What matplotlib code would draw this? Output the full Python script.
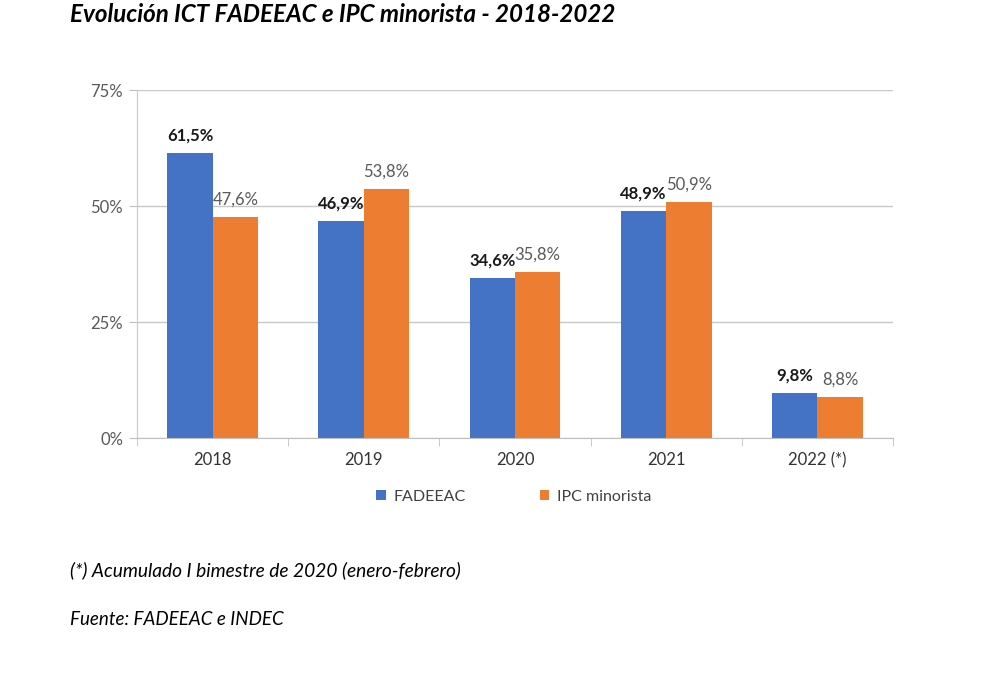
import matplotlib.pyplot as plt
import numpy as np

categorias = ['2018', '2019', '2020', '2021', '2022 (*)']
fadeeac = [61.5, 46.9, 34.6, 48.9, 9.8]
ipc = [47.6, 53.8, 35.8, 50.9, 8.8]
yticks = [0, 25, 50, 75]

azul = '#4472C4'
naranja = '#ED7D31'
gris = '#595959'

plt.rcParams['font.family'] = ['Lato', 'DejaVu Sans']

fig = plt.figure(figsize=(9.81, 6.73), dpi=100)
ax = fig.add_axes([0.1397, 0.349, 0.7706, 0.517])

x = np.arange(len(categorias))
w = 0.3
b1 = ax.bar(x - w / 2, fadeeac, w, color=azul, label='FADEEAC')
b2 = ax.bar(x + w / 2, ipc, w, color=naranja, label='IPC minorista')

# etiquetas de datos
for rect, v in zip(b1, fadeeac):
    ax.text(rect.get_x() + rect.get_width() / 2, v + 2, f'{v:.1f}%'.replace('.', ','),
            ha='center', va='bottom', fontsize=12, fontweight='bold', color='#1a1a1a')
for rect, v in zip(b2, ipc):
    ax.text(rect.get_x() + rect.get_width() / 2, v + 2, f'{v:.1f}%'.replace('.', ','),
            ha='center', va='bottom', fontsize=12, color=gris)

ax.set_xlim(-0.5, len(categorias) - 0.5)
ax.set_ylim(0, 75)
ax.set_yticks(yticks)
ax.set_yticklabels([f'{t}%' for t in yticks], fontsize=12, color=gris)
ax.set_xticks(x)
ax.set_xticklabels(categorias, fontsize=12, color='#333333')
ax.tick_params(axis='x', length=0, pad=10)
ax.tick_params(axis='y', length=6, color='#bfbfbf', pad=4)
ax.set_xticks(np.arange(-0.5, len(categorias)), minor=True)
ax.tick_params(axis='x', which='minor', length=6, color='#bfbfbf')

ax.yaxis.grid(True, color='#c8c8c8', linewidth=1)
ax.set_axisbelow(True)
for s in ['top', 'right']:
    ax.spines[s].set_visible(False)
ax.spines['left'].set_color('#c8c8c8')
ax.spines['bottom'].set_color('#bfbfbf')

fig.legend(handles=[b1, b2], labels=['FADEEAC', 'IPC minorista'], loc='center',
           bbox_to_anchor=(0.524, 0.262), ncol=2, frameon=False, fontsize=11.5,
           handlelength=0.6, handleheight=0.6, columnspacing=4.6, handletextpad=0.5,
           labelcolor='#404040')

fig.text(0.071, 0.978, 'Evolución ICT FADEEAC e IPC minorista - 2018-2022', fontsize=17.4,
         fontweight='bold', fontstyle='italic', va='center', ha='left')
fig.text(0.071, 0.152, '(*) Acumulado I bimestre de 2020 (enero-febrero)', fontsize=13.8,
         fontstyle='italic', va='center', ha='left')
fig.text(0.071, 0.079, 'Fuente: FADEEAC e INDEC', fontsize=13.5,
         fontstyle='italic', va='center', ha='left')

fig.savefig('out.png', dpi=100)
